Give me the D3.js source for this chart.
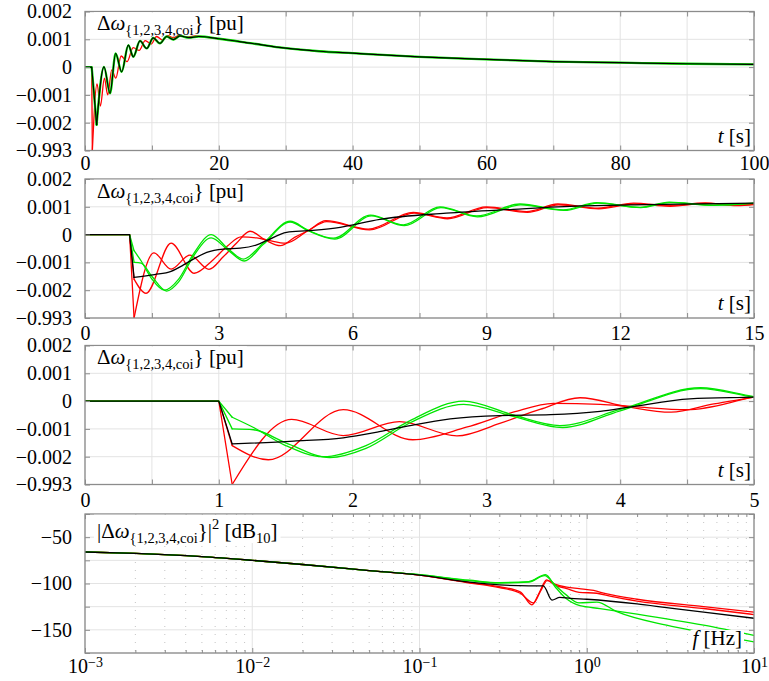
<!DOCTYPE html>
<html>
<head>
<meta charset="utf-8">
<script src="https://cdn.jsdelivr.net/npm/d3@7"></script>
<style>
  body { margin: 0; background: #fff; }
  svg { display: block; font-family: "Liberation Serif", "DejaVu Serif", serif; }
  .tick text { fill: #000; }
  .tick line { stroke: #8c8c8c; }
</style>
</head>
<body>
<svg id="chart"></svg>
<script>
// ---- data: time responses, [t (s), delta omega (pu)] ----
const red1 = [[0,0],[1,0],[1.1,-0.003],[1.545,-0.00066],[1.93,-0.00124],[2.35,-0.00074],[2.78,-0.00125],[3.1,-0.0008],[3.4,-0.0003],[3.7,0.00012],[4.05,-0.0002],[4.38,-0.0004],[4.7,-0.0001],[5.0,0.00014],[5.4,0.0005],[6.35,0.0002],[7.36,0.0008],[8.11,0.0006],[9.0,0.001],[9.9,0.00083],[10.6,0.0011],[11.5,0.00095],[12.3,0.00113],[13.1,0.00104],[13.9,0.00114],[14.6,0.00106],[15,0.0011]];
const red2 = [[0,0],[1,0],[1.1,-0.0016],[1.37,-0.00211],[1.93,-0.00031],[2.45,-0.00139],[2.85,-0.00094],[3.2,-0.0004],[3.5,-0.00008],[3.85,-0.00012],[4.1,-0.0002],[4.5,-0.00031],[5.0,0.00014],[5.42,0.00047],[6.38,0.00017],[7.38,0.00077],[8.13,0.00057],[9.02,0.00097],[9.92,0.0008],[10.62,0.00107],[11.52,0.00093],[12.32,0.0011],[13.12,0.00102],[13.92,0.00112],[14.62,0.00104],[15,0.00108]];
const green1 = [[0,0],[1,0],[1.1,-0.00058],[1.26,-0.00095],[1.5,-0.0016],[1.78,-0.002],[2.1,-0.0016],[2.43,-0.0007],[2.83,0],[3.2,-0.0005],[3.55,-0.00088],[4.0,-0.0003],[4.6,0.00048],[5.0,0.00016],[5.57,-0.00013],[6.4,0.0007],[7.14,0.00035],[7.96,0.001],[8.78,0.00067],[9.75,0.0011],[10.72,0.00089],[11.47,0.00115],[12.44,0.00098],[13.1,0.00117],[14.08,0.00106],[15,0.00113]];
const green2 = [[0,0],[1,0],[1.1,-0.001],[1.26,-0.00103],[1.5,-0.0015],[1.83,-0.00203],[2.1,-0.0017],[2.43,-0.00078],[2.83,-0.00012],[3.2,-0.00055],[3.57,-0.00095],[4.0,-0.00035],[4.6,0.00045],[5.0,0.00014],[5.6,-0.00016],[6.42,0.00067],[7.16,0.00032],[7.98,0.00097],[8.8,0.00064],[9.77,0.00107],[10.74,0.00087],[11.5,0.00113],[12.46,0.00097],[13.12,0.00115],[14.1,0.00105],[15,0.00112]];
const coi = [[0,0],[1,0],[1.1,-0.00154],[1.56,-0.00144],[1.93,-0.00132],[2.2,-0.0011],[2.43,-0.00088],[2.73,-0.00064],[3.1,-0.00052],[3.48,-0.00049],[3.85,-0.00037],[4.07,-0.00022],[4.52,0.00008],[5,0.00014],[5.72,0.00026],[6.61,0.00055],[8.1,0.00077],[9.6,0.00091],[11.1,0.00103],[12.6,0.00108],[15,0.00113]];

// overview 0-100 s (coarser record, coi and green coincide here)
const greenOverview = [[0,0],[1,0],[1.74,-0.00207],[2.84,0.00001],[3.74,-0.00094],[4.58,0.00049],[5.48,-0.00017],[6.48,0.00079],[7.22,0.00037],[8.22,0.00094],[9.22,0.00067],[10.2,0.00105],[11.2,0.00085],[12.2,0.0011],[13.2,0.00099],[14.2,0.00112],[15.5,0.00106],[17,0.0011],[20,0.00102],[25,0.00085],[30,0.00068],[35,0.00057],[40,0.0005],[50,0.00037],[60,0.00028],[70,0.0002],[80,0.00016],[90,0.00012],[100,0.0001]];
const redOverview = [[0,0],[1,0],[1.1,-0.003],[1.8,-0.0006],[2.3,-0.0014],[2.9,-0.0004],[3.4,-0.001],[4.0,-0.0001],[4.6,-0.0004],[5.4,0.0004],[6.3,0.0002],[7.2,0.0007],[8.1,0.0006],[9.0,0.00095],[9.9,0.00083],[10.7,0.0011],[11.6,0.00097],[12.4,0.00113],[13.2,0.00105],[14.1,0.00114],[15,0.00108],[16.5,0.00112],[18,0.00108],[20,0.00102],[25,0.00085],[30,0.00068],[35,0.00057],[40,0.0005],[50,0.00037],[60,0.00028],[70,0.0002],[80,0.00016],[90,0.00012],[100,0.0001]];

// ---- data: spectra, [f (Hz), |dw|^2 (dB)] ----
const red1Spec = [[0.001,-66],[0.002,-67.5],[0.005,-71],[0.01,-75],[0.02,-79.5],[0.05,-86],[0.1,-91],[0.2,-99],[0.3,-103.5],[0.4,-109],[0.47,-123],[0.52,-110],[0.575,-96],[0.65,-101],[0.76,-104],[0.9,-105.5],[1.1,-107.5],[1.3,-111],[2,-117],[5,-125],[10,-131]];
const red2Spec = [[0.001,-66],[0.002,-67.5],[0.005,-71],[0.01,-75],[0.02,-79.5],[0.05,-86],[0.1,-91],[0.2,-99.5],[0.3,-104.5],[0.4,-110.5],[0.48,-121],[0.53,-108],[0.58,-97],[0.65,-102],[0.76,-105.5],[0.9,-109.5],[1.15,-110.5],[1.4,-114],[2,-119],[5,-127],[10,-133.5]];
const green1Spec = [[0.001,-66],[0.002,-67.5],[0.005,-71],[0.01,-75],[0.02,-79.5],[0.05,-86],[0.1,-90.5],[0.2,-96.5],[0.3,-99],[0.45,-98],[0.567,-90.5],[0.65,-104],[0.75,-116],[0.91,-124],[1.2,-127],[2,-133],[5,-145],[10,-156]];
const green2Spec = [[0.001,-66],[0.002,-67.5],[0.005,-71],[0.01,-75],[0.02,-79.5],[0.05,-86],[0.1,-90.5],[0.2,-97],[0.3,-99.5],[0.45,-98.5],[0.56,-91.5],[0.65,-102],[0.75,-112],[0.9,-121],[1.15,-120],[1.5,-130],[3,-145],[5,-153],[10,-163]];
const coiSpec = [[0.001,-66],[0.002,-67.5],[0.005,-71],[0.01,-75],[0.02,-79.5],[0.05,-86],[0.1,-91],[0.2,-98.5],[0.3,-101.5],[0.45,-102.5],[0.55,-102.5],[0.62,-118],[0.69,-115],[0.8,-116],[1.0,-117],[2,-122],[3,-126],[5,-131],[10,-137.5]];

// ---- ticks ----
const yTicksPu = [0.002, 0.001, 0, -0.001, -0.002, -0.003];
const yTickLabelsPu = ["0.002", "0.001", "0", "\u22120.001", "\u22120.002", "\u22120.993"];
const xGrid1 = [0,10,20,30,40,50,60,70,80,90,100];
const xTicks1 = [0,20,40,60,80,100];
const xGrid2 = [0,1.5,3,4.5,6,7.5,9,10.5,12,13.5,15];
const xTicks2 = [0,3,6,9,12,15];
const xGrid3 = [0,0.5,1,1.5,2,2.5,3,3.5,4,4.5,5];
const xTicks3 = [0,1,2,3,4,5];
const yGridDb = [-25,-50,-75,-100,-125,-150,-175];
const yTicksDb = [-50,-100,-150];
const yTickLabelsDb = ["\u221250", "\u2212100", "\u2212150"];
const xDecades = [0.001,0.01,0.1,1,10];
const xDecadeExponents = ["\u22123", "\u22122", "\u22121", "0", "1"];

const width = 769;
const height = 681;
const margin = { left: 85, right: 15 };
const innerWidth = width - margin.left - margin.right;
const innerHeight = 139;
const FONT = "'Liberation Serif', 'DejaVu Serif', serif";

const RED = "#ff0000", GREEN = "#00e600", BLACK = "#000000";

const svg = d3.select("#chart").attr("width", width).attr("height", height);

const panels = [
  { top: 11.5, x: d3.scaleLinear().domain([0, 100]), xGrid: xGrid1, xTicks: xTicks1, xPad: 5, kink: true,
    series: [
      { data: redOverview, color: RED, w: 1.3 },
      { data: greenOverview, color: GREEN, w: 2.3 },
      { data: greenOverview, color: BLACK, w: 1.2 }
    ], xLabel: ["t", " [s]"], xLabelRight: 3 },
  { top: 179, x: d3.scaleLinear().domain([0, 15]), xGrid: xGrid2, xTicks: xTicks2, xPad: 8, kink: true,
    series: [
      { data: red1, color: RED, w: 1.3 }, { data: red2, color: RED, w: 1.3 },
      { data: green1, color: GREEN, w: 1.3 }, { data: green2, color: GREEN, w: 1.3 },
      { data: coi, color: BLACK, w: 1.3 }
    ], xLabel: ["t", " [s]"], xLabelRight: 3 },
  { top: 345.5, x: d3.scaleLinear().domain([0, 5]), xGrid: xGrid3, xTicks: xTicks3, xPad: 8.5, kink: true,
    series: [
      { data: red1, color: RED, w: 1.3 }, { data: red2, color: RED, w: 1.3 },
      { data: green1, color: GREEN, w: 1.3 }, { data: green2, color: GREEN, w: 1.3 },
      { data: coi, color: BLACK, w: 1.3 }
    ], xLabel: ["t", " [s]"], xLabelRight: 3 },
  { top: 514, x: d3.scaleLog().domain([0.001, 10]), log: true, kink: false,
    series: [
      { data: red1Spec, color: RED, w: 1.3 }, { data: red2Spec, color: RED, w: 1.3 },
      { data: green1Spec, color: GREEN, w: 1.3 }, { data: green2Spec, color: GREEN, w: 1.3 },
      { data: coiSpec, color: BLACK, w: 1.3 }
    ], xLabel: ["f", " [Hz]"], xLabelRight: 12 }
];

// axis helper: inward ticks, no domain line, serif labels, no empty texts
function styleAxis(a) {
  a.attr("font-size", 20).attr("font-family", FONT);
  a.select(".domain").remove();
  a.selectAll(".tick text").filter(function () { return this.textContent === ""; }).remove();
}

panels.forEach((p, i) => {
  const x = p.x.range([0, innerWidth]);
  const y = p.log
    ? d3.scaleLinear().domain([-175, -25]).range([innerHeight, 0])
    : d3.scaleLinear().domain([-0.003, 0.002]).range([innerHeight, 0]);
  const g = svg.append("g").attr("transform", `translate(${margin.left},${p.top})`);

  const xGrid = p.log ? xDecades : p.xGrid;
  const yGrid = p.log ? yGridDb : yTicksPu;
  const minor = p.log ? x.ticks().filter(d => !xDecades.some(m => Math.abs(m - d) / m < 1e-6)) : [];

  // grid
  g.append("g").selectAll("line").data(minor).join("line")
    .attr("x1", d => x(d)).attr("x2", d => x(d)).attr("y1", 0).attr("y2", innerHeight)
    .attr("stroke", "#c4c4c4").attr("stroke-width", 1).attr("stroke-dasharray", "1,7");
  g.append("g").selectAll("line").data(xGrid).join("line")
    .attr("x1", d => x(d)).attr("x2", d => x(d)).attr("y1", 0).attr("y2", innerHeight)
    .attr("stroke", "#e3e3e3");
  g.append("g").selectAll("line").data(yGrid).join("line")
    .attr("x1", 0).attr("x2", innerWidth).attr("y1", d => y(d)).attr("y2", d => y(d))
    .attr("stroke", "#e3e3e3");

  // lines
  g.append("clipPath").attr("id", "clip" + i)
    .append("rect").attr("width", innerWidth).attr("height", innerHeight);
  const plot = g.append("g").attr("clip-path", `url(#clip${i})`);
  const line = d3.line().x(d => x(d[0])).y(d => y(d[1]));
  p.series.forEach(s => {
    // the step at t = 1 s is a straight sampled segment, the rest is smooth
    const parts = p.kink
      ? [[s.data.slice(0, 3), d3.curveLinear], [s.data.slice(2), d3.curveMonotoneX]]
      : [[s.data, d3.curveMonotoneX]];
    parts.forEach(([pts, curve]) => {
      plot.append("path")
        .attr("d", line.curve(curve)(pts))
        .attr("fill", "none")
        .attr("stroke", s.color)
        .attr("stroke-width", s.w)
        .attr("stroke-linecap", "round")
        .attr("stroke-linejoin", "round");
    });
  });

  // axes with inward ticks
  const tickLen = 5;
  if (p.log) {
    g.append("g").attr("transform", `translate(0,${innerHeight})`)
      .call(d3.axisBottom(x).tickValues(minor).tickSizeInner(-3).tickSizeOuter(0).tickFormat(""))
      .call(styleAxis);
    const major = g.append("g").attr("transform", `translate(0,${innerHeight})`)
      .call(d3.axisBottom(x).tickValues(xDecades).tickSizeInner(-tickLen).tickSizeOuter(0).tickPadding(6)
        .tickFormat(() => "10"))
      .call(styleAxis);
    major.selectAll(".tick text").append("tspan")
      .attr("dy", "-0.45em").attr("font-size", 14)
      .text((d, k) => xDecadeExponents[k]);
    g.append("g").call(d3.axisTop(x).tickValues(minor).tickSizeInner(-3).tickSizeOuter(0).tickFormat(""))
      .call(styleAxis);
    g.append("g").call(d3.axisTop(x).tickValues(xDecades).tickSizeInner(-tickLen).tickSizeOuter(0).tickFormat(""))
      .call(styleAxis);
  } else {
    g.append("g").attr("transform", `translate(0,${innerHeight})`)
      .call(d3.axisBottom(x).tickValues(p.xGrid).tickSizeInner(-tickLen).tickSizeOuter(0).tickPadding(p.xPad)
        .tickFormat(d => p.xTicks.includes(d) ? String(d) : ""))
      .call(styleAxis);
    g.append("g").call(d3.axisTop(x).tickValues(p.xGrid).tickSizeInner(-tickLen).tickSizeOuter(0).tickFormat(""))
      .call(styleAxis);
  }

  g.append("g").call(
    d3.axisLeft(y).tickValues(yGrid).tickSizeInner(-tickLen).tickSizeOuter(0).tickPadding(13)
      .tickFormat(d => {
        if (p.log) { const k = yTicksDb.indexOf(d); return k < 0 ? "" : yTickLabelsDb[k]; }
        return yTickLabelsPu[yTicksPu.indexOf(d)];
      }))
    .call(styleAxis);
  g.append("g").attr("transform", `translate(${innerWidth},0)`)
    .call(d3.axisRight(y).tickValues(yGrid).tickSizeInner(-tickLen).tickSizeOuter(0).tickFormat(""))
    .call(styleAxis);

  // frame
  g.append("rect").attr("width", innerWidth).attr("height", innerHeight)
    .attr("fill", "none").attr("stroke", "#8c8c8c").attr("stroke-width", 1.3);

  // quantity label, top left, on a white box
  const base = p.log ? 24 : 18.5;
  const labBox = g.append("rect").attr("fill", "#fff");
  const lab = g.append("text").attr("x", 12).attr("y", base).attr("font-size", 21);
  if (p.log) lab.append("tspan").text("|");
  lab.append("tspan").text("\u0394");
  lab.append("tspan").attr("font-style", "italic").text("\u03c9");
  lab.append("tspan").attr("font-size", 14.5).attr("dy", 5).text("{1,2,3,4,coi");
  if (p.log) {
    lab.append("tspan").attr("dy", -5).text("}|");
    lab.append("tspan").attr("font-size", 14.5).attr("dy", -9).text("2");
    lab.append("tspan").attr("dy", 9).text(" [dB");
    lab.append("tspan").attr("font-size", 14.5).attr("dy", 5).text("10");
    lab.append("tspan").attr("dy", -5).text("]");
  } else {
    lab.append("tspan").attr("dy", -5).text("}");
    lab.append("tspan").text(" [pu]");
  }
  const bb = lab.node().getBBox();
  labBox.attr("x", bb.x - 3).attr("y", 0.7)
    .attr("width", bb.width + 6).attr("height", base + 5 - 0.7);

  // axis label, bottom right, on a tight white box
  const xBase = innerHeight - 8;
  const xlBox = g.append("rect").attr("fill", "#fff");
  const xl = g.append("text").attr("x", innerWidth - p.xLabelRight).attr("y", xBase)
    .attr("text-anchor", "end").attr("font-size", 21);
  xl.append("tspan").attr("font-style", "italic").text(p.xLabel[0]);
  xl.append("tspan").text(p.xLabel[1]);
  const xb = xl.node().getBBox();
  xlBox.attr("x", xb.x - 2).attr("y", xBase - 15).attr("width", xb.width + 4).attr("height", 19);
});
</script>
</body>
</html>
